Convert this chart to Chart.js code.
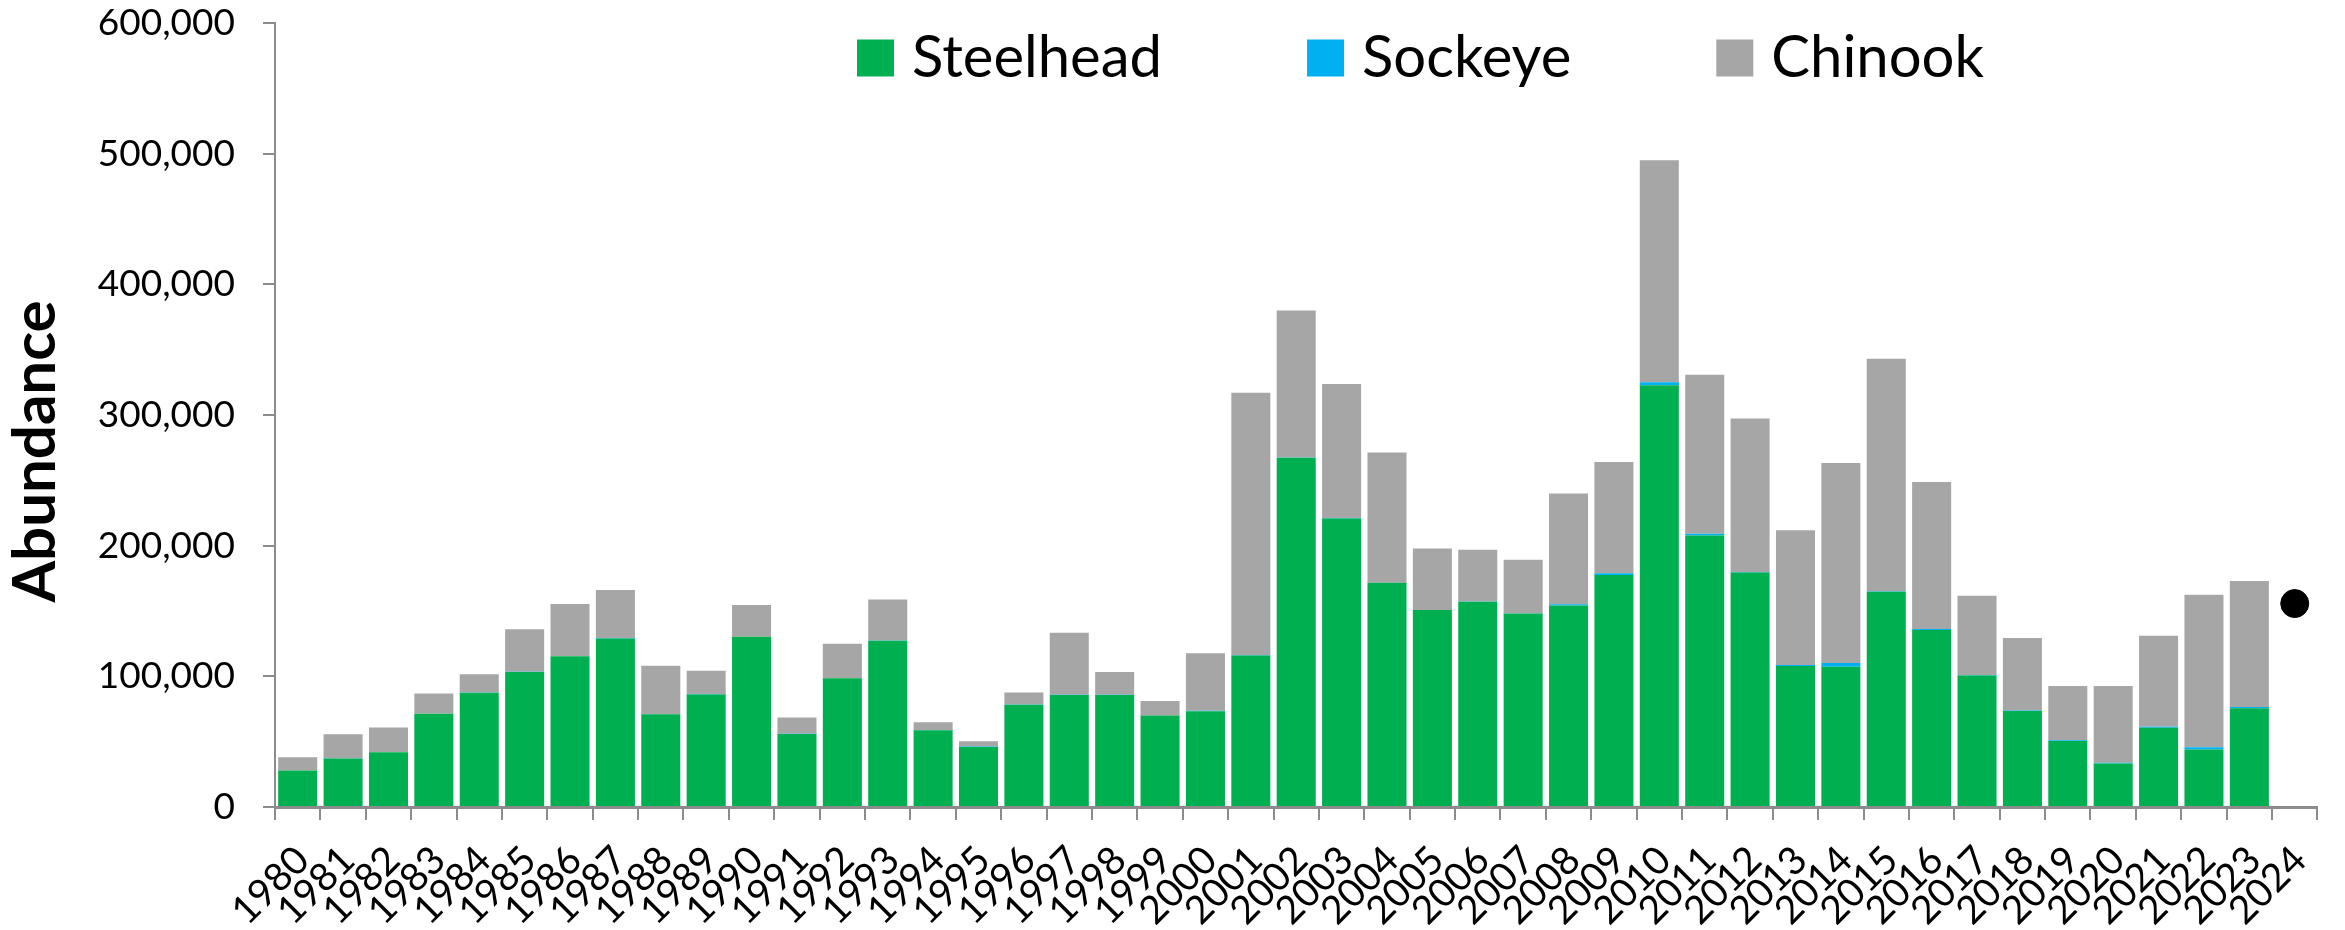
<!DOCTYPE html>
<html>
<head>
<meta charset="utf-8">
<title>Abundance by species</title>
<script src="https://cdn.jsdelivr.net/npm/chart.js@4.4.1/dist/chart.umd.min.js"></script>
<style>
  body { margin: 0; background: #fff; }
  #wrap { width: 2345px; height: 930px; position: relative; }
</style>
</head>
<body>
<div id="wrap"><canvas id="abundanceChart"></canvas></div>
<script>
// counts
const years = [
  '1980', '1981', '1982', '1983', '1984', '1985', '1986', '1987', '1988', '1989',
  '1990', '1991', '1992', '1993', '1994', '1995', '1996', '1997', '1998', '1999',
  '2000', '2001', '2002', '2003', '2004', '2005', '2006', '2007', '2008', '2009',
  '2010', '2011', '2012', '2013', '2014', '2015', '2016', '2017', '2018', '2019',
  '2020', '2021', '2022', '2023', '2024'
];

const steelhead = [
  27900, 37200, 41900, 71400, 87400, 103400, 115300, 129000, 70900, 86100,
  130300, 55800, 98500, 127200, 58700, 46000, 78200, 85700, 85700, 70000,
  73300, 116000, 267200, 220800, 171600, 150700, 157100, 148100, 154300, 177600,
  322700, 207800, 179400, 108000, 107400, 164800, 135400, 100700, 73400, 50600,
  33300, 60700, 44000, 75600, null
];

const sockeye = [
  30, 20, 50, 20, 300, 40, 20, 300, 20, 300,
  50, 300, 50, 300, 300, 300, 200, 200, 200, 100,
  400, 400, 200, 300, 100, 100, 100, 100, 900, 1200,
  2300, 1400, 500, 700, 2800, 300, 800, 300, 500, 400,
  500, 700, 1700, 900, null
];

const chinook = [
  10070, 18380, 18850, 15480, 13900, 32560, 40080, 36700, 37180, 17800,
  24250, 12400, 26350, 31300, 5900, 4100, 9300, 47500, 17500, 11100,
  44000, 200600, 112600, 102700, 99600, 47000, 39600, 41100, 84800, 85200,
  170000, 121600, 117500, 103100, 153100, 177900, 112600, 60600, 55400, 41600,
  58800, 69700, 116700, 96500, null
];

// 2024 shown as a single point
const estimate = [
  null, null, null, null, null, null, null, null, null, null,
  null, null, null, null, null, null, null, null, null, null,
  null, null, null, null, null, null, null, null, null, null,
  null, null, null, null, null, null, null, null, null, null,
  null, null, null, null, 155700
];

const axisGray = '#8c8c8c';
const fontFamily = 'Lato, "Open Sans", sans-serif';

// legend sits inside the plot, like the Excel one, so draw it ourselves
const insideLegend = {
  id: 'insideLegend',
  afterDraw(chart, args, opts) {
    const ctx = chart.ctx;
    ctx.save();
    ctx.font = opts.size + 'px ' + fontFamily;
    ctx.textBaseline = 'middle';
    let x = opts.x;
    chart.data.datasets.forEach(ds => {
      if (ds.type === 'line') return;
      ctx.fillStyle = ds.backgroundColor;
      ctx.fillRect(x, opts.y - opts.box / 2, opts.box, opts.box);
      ctx.fillStyle = '#000';
      const tx = x + opts.box + opts.textGap;
      ctx.fillText(ds.label, tx, opts.y);
      x = tx + ctx.measureText(ds.label).width + opts.itemGap;
    });
    ctx.restore();
  }
};

new Chart(document.getElementById('abundanceChart'), {
  type: 'bar',
  data: {
    labels: years,
    datasets: [
      { label: 'Steelhead', data: steelhead, backgroundColor: '#00b050', stack: 'fish', order: 2 },
      { label: 'Sockeye', data: sockeye, backgroundColor: '#00b0f0', stack: 'fish', order: 2 },
      { label: 'Chinook', data: chinook, backgroundColor: '#a6a6a6', stack: 'fish', order: 2 },
      {
        type: 'line', label: '2024', data: estimate, stack: 'est', order: 1,
        showLine: false, pointRadius: 14, pointBackgroundColor: '#000',
        pointBorderColor: '#000', borderColor: '#000'
      }
    ]
  },
  plugins: [insideLegend],
  options: {
    responsive: true,
    maintainAspectRatio: false,
    animation: false,
    layout: { padding: { top: 0, right: 2, left: 0, bottom: 0 } },
    datasets: { bar: { barPercentage: 0.86, categoryPercentage: 1.0 } },
    plugins: {
      legend: { display: false },
      tooltip: { enabled: false },
      insideLegend: { x: 857, y: 58, box: 37, textGap: 18, itemGap: 145, size: 58 }
    },
    scales: {
      x: {
        stacked: true,
        grid: { display: true, drawOnChartArea: false, offset: true, tickLength: 13, color: axisGray, lineWidth: 2 },
        border: { color: axisGray, width: 3 },
        ticks: {
          autoSkip: false, maxRotation: 45, minRotation: 45, padding: 17, labelOffset: 5,
          color: '#000', font: { family: fontFamily, size: 39 }
        },
        afterFit(scale) { scale.height = 123; }
      },
      y: {
        stacked: true,
        min: 0,
        max: 600000,
        grid: { display: true, drawOnChartArea: false, tickLength: 12, color: axisGray, lineWidth: 2 },
        border: { color: axisGray, width: 2 },
        ticks: {
          stepSize: 100000, padding: 28, color: '#000',
          font: { family: fontFamily, size: 37, lineHeight: 1.0 },
          callback: v => v.toLocaleString('en-US')
        },
        title: {
          display: true,
          // trailing spaces nudge the centred title down, as in the original
          text: 'Abundance     ',
          color: '#000',
          padding: 0,
          font: { family: fontFamily, size: 60, weight: 'bold' }
        },
        afterFit(scale) {
          scale.width = 275;
          // tick padding would otherwise be added above the top label
          scale.paddingTop = 23;
        }
      }
    }
  }
});
</script>
</body>
</html>
